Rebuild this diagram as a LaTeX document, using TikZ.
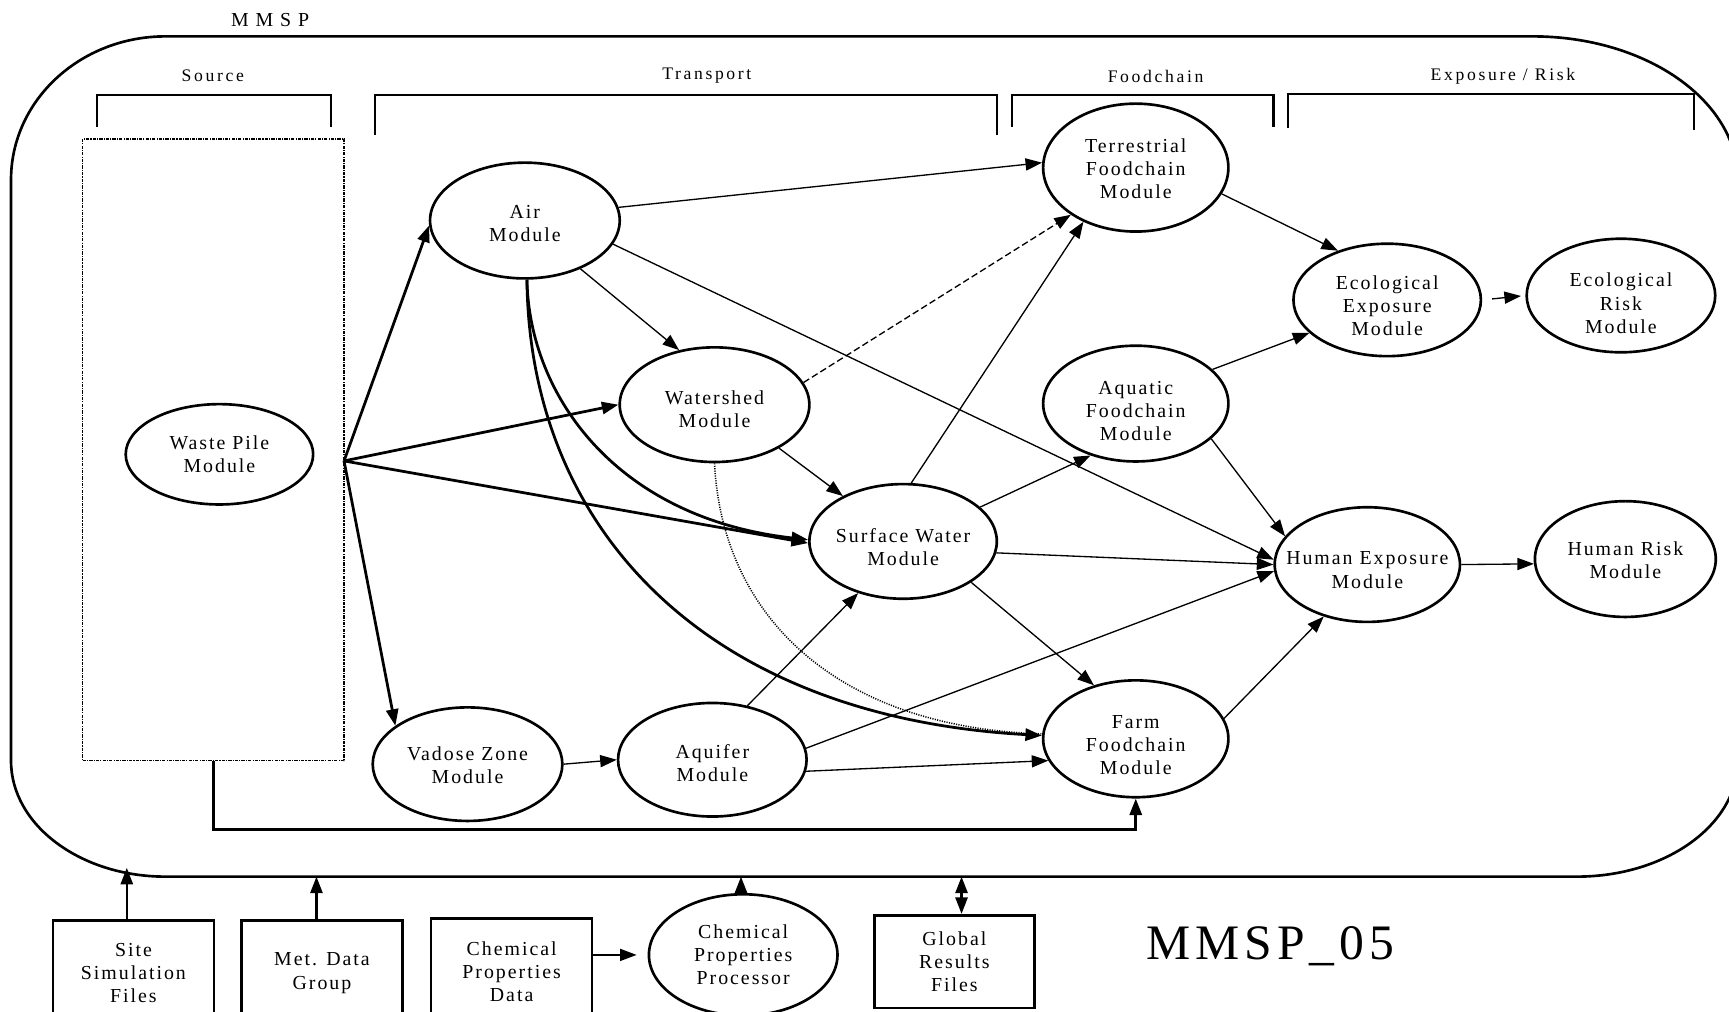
\documentclass[tikz,border=0pt]{standalone}
\usepackage{fontspec}
\setmainfont{Liberation Serif}
\newfontfamily\modfont{Liberation Serif}[LetterSpace=10]
\newfontfamily\hdrfont{Liberation Serif}[LetterSpace=15]
\newfontfamily\ttlfont{Liberation Serif}[LetterSpace=35]
\usetikzlibrary{shapes.geometric,arrows.meta,calc}
\begin{document}
\begin{tikzpicture}[x=1pt,y=-1pt,
  mod/.style={ellipse,draw,line width=2.4pt,inner sep=0pt},
  lbl/.style={align=center,inner sep=0pt,font=\modfont\fontsize{18}{21}\selectfont},
  box/.style={rectangle,draw,line width=2.4pt,align=center,inner sep=0pt,font=\modfont\fontsize{18}{21}\selectfont},
  hdr/.style={font=\hdrfont\fontsize{16}{19}\selectfont,inner sep=0pt},
  bracket/.style={line width=2.2pt},
  tip/.style={-{Triangle[length=15pt,width=11pt]}},
  thn/.style={tip,line width=1.2pt},
  thk/.style={tip,line width=2.5pt},
  med/.style={tip,line width=2.2pt}]
\useasboundingbox (0,0) rectangle (1568,917);

% framework boundary
\draw[line width=2.4pt] (10,163) arc[start angle=180,end angle=270,x radius=140,y radius=130]
  -- (1390,33) arc[start angle=270,end angle=360,x radius=186,y radius=130]
  -- (1576,690) arc[start angle=0,end angle=90,x radius=146,y radius=105]
  -- (150,795) arc[start angle=90,end angle=180,x radius=140,y radius=105] -- cycle;
\node[font=\ttlfont\fontsize{18}{21}\selectfont,inner sep=0pt] (title) at (245,18) {MMSP};

% stage brackets
\draw[bracket] (88,115) -- (88,86) -- (300,86) -- (300,115);
\draw[bracket] (340,122) -- (340,86) -- (904,86) -- (904,122);
\draw[bracket] (918,115) -- (918,86) -- (1155,86) -- (1155,115);
\draw[bracket] (1168,116) -- (1168,85) -- (1536,85) -- (1536,118);
\node[hdr] (hsrc) at (193,69) {Source};
\node[hdr] (htr) at (641,69) {Transport};
\node[hdr] (hfc) at (1048,69) {Foodchain};
\node[hdr] (hexr) at (1363,69) {Exposure / Risk};

% source area
\node[draw,line width=1.1pt,dash pattern=on 3pt off 1pt on 1pt off 1pt,minimum width=237,minimum height=564,inner sep=0pt] (wbox) at (193.5,408) {};
\coordinate (wsrc) at (312,418);

% modules
\node[mod,minimum width=170,minimum height=91,label={[lbl]center:Waste Pile\\Module}] (waste) at (199,412) {};
\node[mod,minimum width=172,minimum height=105,label={[lbl,yshift=-3pt]center:Air\\Module}] (air) at (476,200) {};
\node[mod,minimum width=172,minimum height=104,label={[lbl,yshift=-4pt]center:Watershed\\Module}] (wshed) at (648,367) {};
\node[mod,minimum width=170,minimum height=104,label={[lbl,yshift=-5pt]center:Surface Water\\Module}] (sw) at (819,491) {};
\node[mod,minimum width=172,minimum height=103,label={[lbl,yshift=-1pt]center:Vadose Zone\\Module}] (vad) at (424,693) {};
\node[mod,minimum width=171,minimum height=103,label={[lbl,yshift=-3pt]center:Aquifer\\Module}] (aquifer) at (646,689) {};
\node[mod,minimum width=168,minimum height=116,label={[lbl,yshift=-1pt]center:Terrestrial\\Foodchain\\Module}] (terr) at (1030,152) {};
\node[mod,minimum width=168,minimum height=105,label={[lbl,yshift=-7pt]center:Aquatic\\Foodchain\\Module}] (aqf) at (1030,366) {};
\node[mod,minimum width=168,minimum height=106,label={[lbl,yshift=-6pt]center:Farm\\Foodchain\\Module}] (farm) at (1030,670) {};
\node[mod,minimum width=170,minimum height=102,label={[lbl,yshift=-5pt]center:Ecological\\Exposure\\Module}] (eexp) at (1258,272) {};
\node[mod,minimum width=171,minimum height=103,label={[lbl,yshift=-7pt]center:Ecological\\Risk\\Module}] (erisk) at (1470,268) {};
\node[mod,minimum width=168,minimum height=104,label={[lbl,yshift=-5pt]center:Human Exposure\\Module}] (hexp) at (1240,512) {};
\node[mod,minimum width=164,minimum height=105,label={[lbl,yshift=-1pt]center:Human Risk\\Module}] (hrisk) at (1474,507) {};

% connectors from the source
\draw[thk] (wsrc) -- (air.183);
\draw[thk] (wsrc) -- (wshed.180);
\draw[thk] (wsrc) -- (sw.181);
\draw[thk] (wsrc) -- (vad.152);
\draw[thk] (wbox.south) -- ++(0,62) -| (farm.south);

% transport links
\draw[thn] (air.8.6) -- (terr.177);
\draw[thn] (air.-41) -- (wshed.123);
\draw[thn] (air.-15.5) -- (hexp.177);
\draw[thk] (air.-88) .. controls (480,360) and (560,470) .. (sw.179);
\draw[thk] (air.-88) .. controls (480,480) and (640,650) .. (farm.178);
\draw[thn,dash pattern=on 6pt off 3pt] (wshed.14) -- (terr.-144);
\draw[thn] (wshed.-34) -- (sw.143);
\draw[line width=1.4pt,dash pattern=on 1pt off 1.2pt] (wshed.-90) .. controls (655,560) and (760,660) .. (farm.177);
\draw[thn] (sw.82) -- (terr.-134);
\draw[thn] (sw.24) -- (aqf.-131);
\draw[thn] (sw.-7) -- (hexp.180);
\draw[thn] (sw.-31) -- (farm.128);
\draw[thn] (vad.east) -- (aquifer.west);
\draw[thn] (aquifer.57) -- (sw.-131);
\draw[thn] (aquifer.7) -- (hexp.184);
\draw[thn] (aquifer.-7) -- (farm.-166);

% foodchain, exposure and risk links
\draw[thn] (terr.-17) -- (eexp.135);
\draw[thn] (aqf.24) -- (eexp.-157);
\draw[thn] (aqf.-25) -- (hexp.161);
\draw[thn] (farm.13) -- (hexp.-130);
\draw[thn,shorten <=9pt,shorten >=4pt] (eexp.east) -- (erisk.west);
\draw[thn] (hexp.east) -- (hrisk.183);

% external inputs and outputs
\node[box,minimum width=146,minimum height=95] (site) at (121,882.5) {Site\\Simulation\\Files};
\node[box,minimum width=146,minimum height=95] (met) at (292,882.5) {Met. Data\\Group};
\node[box,minimum width=146,minimum height=97] (chemdata) at (464,881.5) {Chemical\\Properties\\Data};
\node[mod,minimum width=171,minimum height=110,label={[lbl]center:Chemical\\Properties\\Processor}] (chemproc) at (674,866) {};
\node[box,minimum width=145,minimum height=84] (global) at (865.5,872) {Global\\Results\\Files};
\node[font=\modfont\fontsize{45}{50}\selectfont,inner sep=0pt] (code) at (1152,858) {MMSP\_05};

\coordinate (siteIn) at (115,787);
\coordinate (metIn) at (287,795);
\coordinate (procIn) at (672,795);
\coordinate (globIn) at (872,795);
\draw[med] (siteIn |- site.north) -- (siteIn);
\draw[med] (metIn |- met.north) -- (metIn);
\draw[thn,shorten >=10pt] (chemproc.west -| chemdata.east) -- (chemproc.west);
\draw[med] (procIn |- chemproc.north) -- (procIn);
\draw[med,{Triangle[length=15pt,width=11pt]}-{Triangle[length=15pt,width=11pt]}] (globIn |- global.north) -- (globIn);
\end{tikzpicture}
\end{document}
